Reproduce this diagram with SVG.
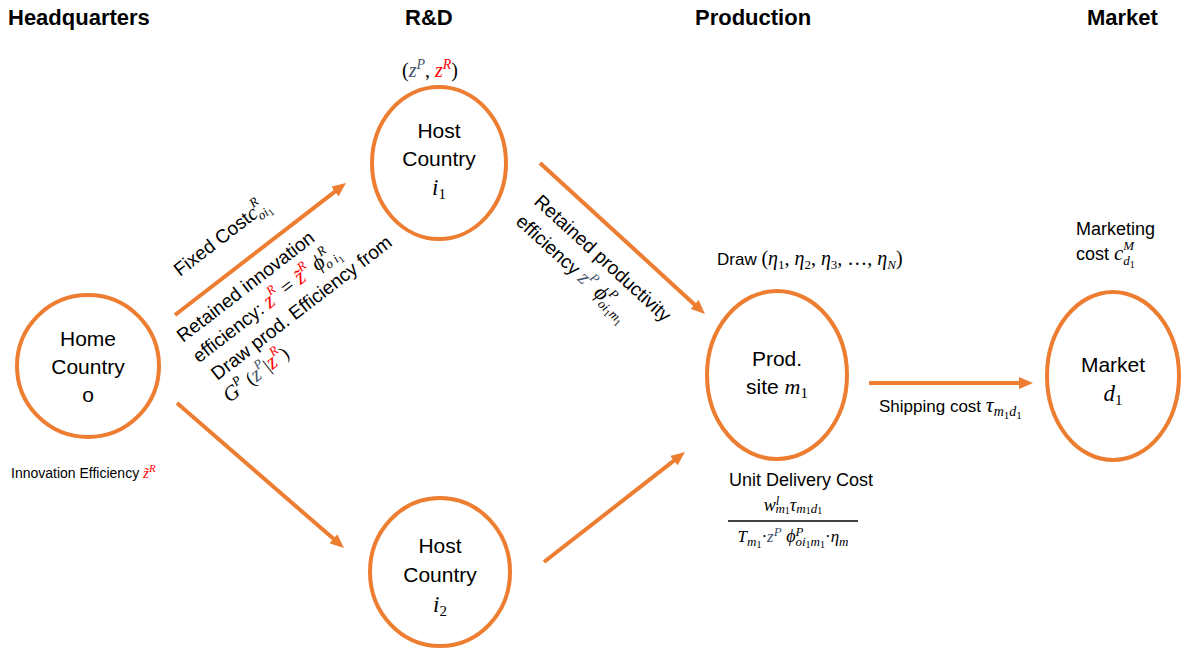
<svg xmlns="http://www.w3.org/2000/svg" width="1188" height="651" viewBox="0 0 1188 651">
<style>
text{font-family:"Liberation Sans",Arial,sans-serif;fill:#000}
.h{font-weight:bold;font-size:22px}
.n{font-size:21px;text-anchor:middle}
.m{font-family:"Liberation Serif","DejaVu Serif",serif;font-style:italic}
.u{font-family:"Liberation Serif","DejaVu Serif",serif;font-style:normal}
.s{font-size:13px}
.ss{font-size:10px}
.red{fill:#FF0000}
.sl{fill:#44546A}
.node{fill:#fff;stroke:#ED7D31;stroke-width:4}
.edge{stroke:#ED7D31;stroke-width:4;fill:none;marker-end:url(#ah)}
</style>
<defs>
<marker id="ah" markerUnits="userSpaceOnUse" markerWidth="14" markerHeight="12" refX="2" refY="6" orient="auto"><path d="M0,0 L14,6 L0,12 Z" fill="#ED7D31"/></marker>
</defs>
<rect width="1188" height="651" fill="#fff"/>
<g id="headers">
<text class="h" x="8" y="25">Headquarters</text>
<text class="h" x="405" y="25">R&amp;D</text>
<text class="h" x="695" y="25">Production</text>
<text class="h" x="1087" y="25">Market</text>
</g>
<g id="connectors">
<line class="edge" x1="175" y1="315" x2="336.5" y2="190.3"/>
<line class="edge" x1="177" y1="403" x2="334.9" y2="540.1"/>
<line class="edge" x1="540" y1="163" x2="696.1" y2="305.9"/>
<line class="edge" x1="544" y1="562" x2="675.5" y2="459.4"/>
<line class="edge" x1="869" y1="383" x2="1021" y2="383"/>
</g>
<g id="home">
<ellipse class="node" cx="88" cy="366" rx="71" ry="71"/>
<text class="n" x="88" y="346">Home</text>
<text class="n" x="88" y="374">Country</text>
<text class="n" x="88" y="402">o</text>
</g>
<g id="host1">
<ellipse class="node" cx="439" cy="163" rx="67" ry="76"/>
<text class="n" x="439" y="138">Host</text>
<text class="n" x="439" y="166">Country</text>
<text class="n m" x="439" y="195" style="font-size:23px">i<tspan class="u" style="font-size:15px" dy="4">1</tspan></text>
</g>
<g id="host2">
<ellipse class="node" cx="440" cy="572" rx="70" ry="74"/>
<text class="n" x="440" y="553">Host</text>
<text class="n" x="440" y="582">Country</text>
<text class="n m" x="440" y="612" style="font-size:23px">i<tspan class="u" style="font-size:15px" dy="4">2</tspan></text>
</g>
<g id="prod">
<ellipse class="node" cx="777" cy="375" rx="70" ry="84"/>
<text class="n" x="777" y="366">Prod.</text>
<text class="n" x="777" y="394">site <tspan class="m" style="font-size:22px">m</tspan><tspan class="u" style="font-size:15px" dy="4">1</tspan></text>
</g>
<g id="market">
<ellipse class="node" cx="1113" cy="376" rx="66" ry="84"/>
<text class="n" x="1113" y="372">Market</text>
<text class="n m" x="1113" y="401" style="font-size:23px">d<tspan class="u" style="font-size:15px" dy="4">1</tspan></text>
</g>
<g id="labels">
<text class="u" x="430" y="77" style="font-size:20px;text-anchor:middle">(<tspan class="m sl">z</tspan><tspan class="m sl" style="font-size:14px" dy="-8">P</tspan><tspan dy="8">, </tspan><tspan class="m red">z</tspan><tspan class="m red" style="font-size:14px" dy="-8">R</tspan><tspan dy="8">)</tspan></text>
<g transform="translate(183,343) rotate(-37.7)">
<text x="38" y="-54" style="font-size:19px">Fixed Cost<tspan class="m" style="font-size:21px">c</tspan><tspan class="s m" dy="-10">R</tspan><tspan class="s m" dx="-9" dy="15">oi</tspan><tspan class="ss u" dy="3">1</tspan></text>
<text x="0" y="0" style="font-size:19px">Retained innovation</text>
<text x="0" y="26" style="font-size:19px">efficiency: <tspan class="m red" style="font-size:22px">z</tspan><tspan class="s m red" dy="-10">R</tspan><tspan dy="10" class="u" style="font-size:21px"> = </tspan><tspan class="m red" style="font-size:22px">z̃</tspan><tspan class="s m red" dy="-10">R</tspan><tspan class="m" dy="10" style="font-size:22px"> ϕ</tspan><tspan class="s m" dy="-10">R</tspan><tspan class="s m" dx="-9" dy="15">o i</tspan><tspan class="ss u" dy="3">1</tspan></text>
<text x="4" y="51" style="font-size:19px">Draw prod. Efficiency from</text>
<text x="0" y="76" style="font-size:19px"><tspan class="m" style="font-size:21px">G</tspan><tspan class="s m" dy="-9">P</tspan><tspan dy="9" class="u"> (</tspan><tspan class="m sl" style="font-size:21px">z</tspan><tspan class="s m sl" dy="-9">P</tspan><tspan dy="9" class="u">|</tspan><tspan class="m red" style="font-size:22px">z</tspan><tspan class="s m red" dy="-10">R</tspan><tspan dy="10" class="u">)</tspan></text>
</g>
<g transform="translate(533,203) rotate(42.5)">
<text x="0" y="0" style="font-size:19px">Retained productivity</text>
<text x="0" y="27" style="font-size:19px">efficiency <tspan class="m sl" style="font-size:21px">z</tspan><tspan class="s m sl" dy="-9">P</tspan><tspan class="m" dy="9" style="font-size:22px"> ϕ</tspan><tspan class="s m" dy="-10">P</tspan><tspan class="s m" dx="-9" dy="15">oi</tspan><tspan class="ss u" dy="3">1</tspan><tspan class="s m" dy="-3">m</tspan><tspan class="ss u" dy="3">1</tspan></text>
</g>
<text x="717" y="265" style="font-size:17px">Draw <tspan class="u" style="font-size:20px">(</tspan><tspan class="m" style="font-size:20px">η</tspan><tspan class="s u" dy="4">1</tspan><tspan dy="-4" class="u" style="font-size:20px">, </tspan><tspan class="m" style="font-size:20px">η</tspan><tspan class="s u" dy="4">2</tspan><tspan dy="-4" class="u" style="font-size:20px">, </tspan><tspan class="m" style="font-size:20px">η</tspan><tspan class="s u" dy="4">3</tspan><tspan dy="-4" class="u" style="font-size:20px">, …, </tspan><tspan class="m" style="font-size:20px">η</tspan><tspan class="s m" dy="4">N</tspan><tspan dy="-4" class="u" style="font-size:20px">)</tspan></text>
<text x="1076" y="235" style="font-size:18px">Marketing</text>
<text x="1076" y="260" style="font-size:18px">cost <tspan class="m" style="font-size:21px">c</tspan><tspan class="s m" dy="-10">M</tspan><tspan class="s m" dx="-11" dy="15">d</tspan><tspan class="ss u" dy="3">1</tspan></text>
<text x="879" y="412" style="font-size:17px">Shipping cost <tspan class="m" style="font-size:22px">τ</tspan><tspan class="m" style="font-size:14px" dy="4">m</tspan><tspan class="u" style="font-size:11px" dy="3">1</tspan><tspan class="m" style="font-size:14px" dy="-3">d</tspan><tspan class="u" style="font-size:11px" dy="3">1</tspan></text>
<text x="801" y="486" style="font-size:18px;text-anchor:middle">Unit Delivery Cost</text>
<text x="793" y="511" style="font-size:18px;text-anchor:middle"><tspan class="m">w</tspan><tspan class="s m" dy="-6">l</tspan><tspan class="s m" dx="-4" dy="8">m</tspan><tspan class="ss u" dy="1">1</tspan><tspan class="m" dy="-3">τ</tspan><tspan class="s m" dy="2">m</tspan><tspan class="ss u" dy="1">1</tspan><tspan class="s m" dy="-1">d</tspan><tspan class="ss u" dy="1">1</tspan></text>
<line x1="728" y1="521" x2="858" y2="521" stroke="#000" stroke-width="1.5"/>
<text x="793" y="542" style="font-size:17px;text-anchor:middle"><tspan class="m">T</tspan><tspan class="s m" dy="4">m</tspan><tspan class="ss u" dy="2">1</tspan><tspan dy="-6" class="u">·</tspan><tspan class="m sl">z</tspan><tspan class="s m sl" dy="-6">P</tspan><tspan class="m" dy="6" style="font-size:18px"> ϕ</tspan><tspan class="s m" dy="-6">P</tspan><tspan class="s m" dx="-8" dy="10">oi</tspan><tspan class="ss u" dy="2">1</tspan><tspan class="s m" dy="-2">m</tspan><tspan class="ss u" dy="2">1</tspan><tspan dy="-6" class="u">·</tspan><tspan class="m">η</tspan><tspan class="s m" dy="4">m</tspan></text>
<text x="11" y="478" style="font-size:14px">Innovation Efficiency <tspan class="m red" style="font-size:15px">z̃</tspan><tspan class="m red" style="font-size:11px" dy="-6">R</tspan></text>
</g>
</svg>
